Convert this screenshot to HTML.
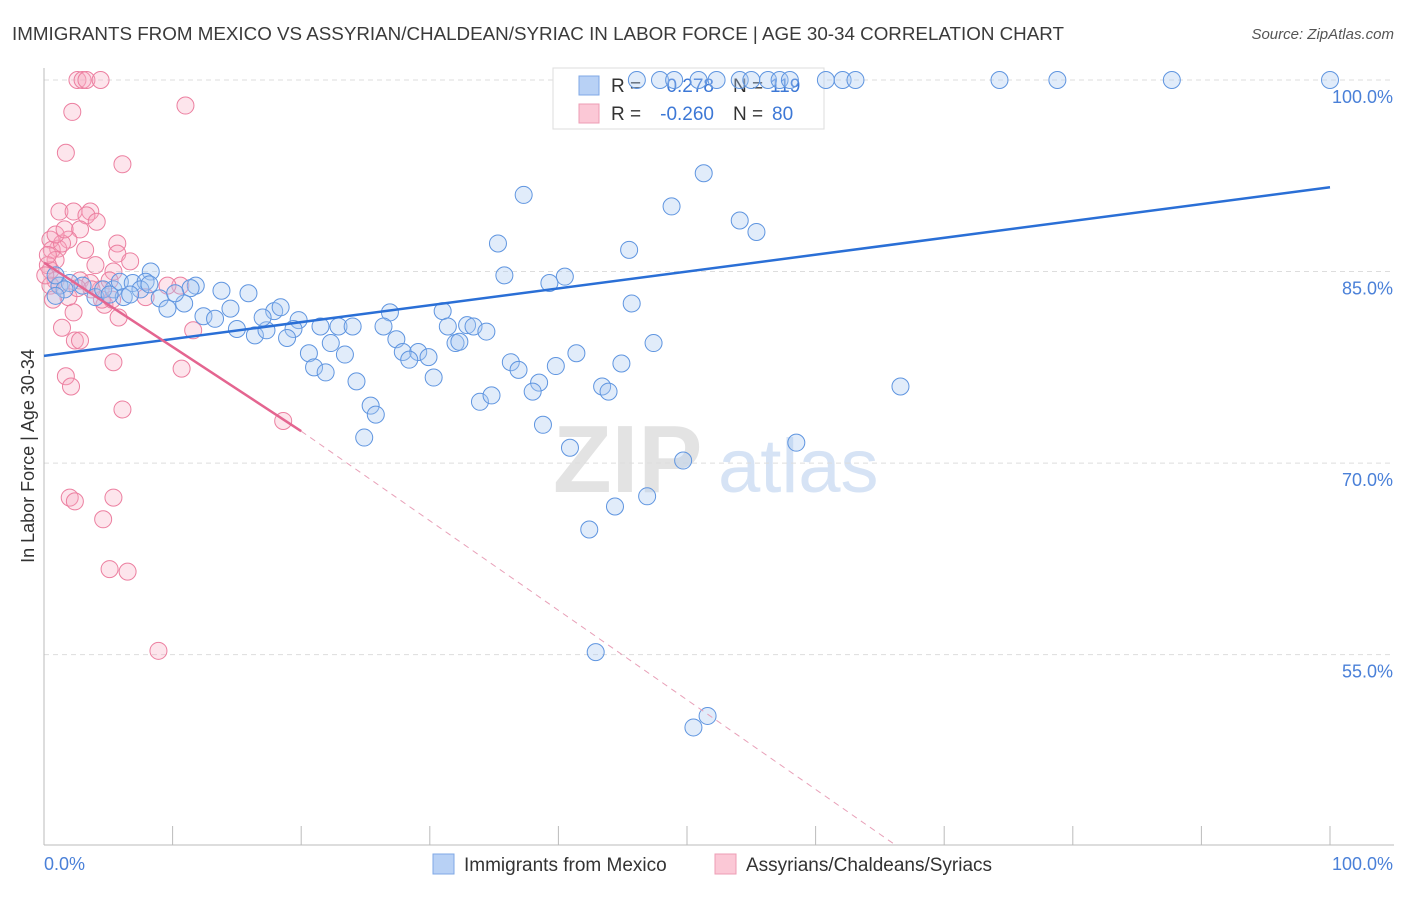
<!DOCTYPE html>
<html><head><meta charset="utf-8">
<style>
body{margin:0;background:#fff;font-family:"Liberation Sans",sans-serif;}
svg text{font-family:"Liberation Sans",sans-serif;}
</style></head>
<body>
<svg id="chart" width="1406" height="892" xmlns="http://www.w3.org/2000/svg">
<text x="12" y="40" font-size="18.8" fill="#3a3a3a">IMMIGRANTS FROM MEXICO VS ASSYRIAN/CHALDEAN/SYRIAC IN LABOR FORCE | AGE 30-34 CORRELATION CHART</text>
<text x="1394" y="39" font-size="15" fill="#555" font-style="italic" text-anchor="end">Source: ZipAtlas.com</text>
<g>
<text x="553" y="492" font-size="96" fill="#e3e3e3" font-family="Liberation Serif" font-weight="bold">ZIP</text>
<text x="718" y="492" font-size="76" fill="#d6e3f5">atlas</text>
</g>
<g id="grid"></g>
<g id="axes"></g>
<g>
<rect x="553" y="68" width="271" height="61" fill="#fff" stroke="#ddd"/>
<rect x="579" y="76" width="20" height="19" fill="#b8d1f5" stroke="#7fa8e6"/>
<rect x="579" y="104" width="20" height="19" fill="#fbc8d6" stroke="#ee9db4"/>
<text x="611" y="92" font-size="19" fill="#333">R =</text>
<text x="714" y="92" font-size="19" fill="#3d78d6" text-anchor="end">0.278</text>
<text x="733" y="92" font-size="19" fill="#333">N =</text>
<text x="770" y="92" font-size="19" fill="#3d78d6">119</text>
<text x="611" y="120" font-size="19" fill="#333">R =</text>
<text x="714" y="120" font-size="19" fill="#3d78d6" text-anchor="end">-0.260</text>
<text x="733" y="120" font-size="19" fill="#333">N =</text>
<text x="772" y="120" font-size="19" fill="#3d78d6">80</text>
</g>
<g id="pts"></g>
<g id="trends"></g>
<g>
<rect x="433" y="854" width="21" height="20" fill="#b8d1f5" stroke="#7fa8e6"/>
<text x="464" y="871" font-size="19" fill="#333">Immigrants from Mexico</text>
<rect x="715" y="854" width="21" height="20" fill="#fbc8d6" stroke="#ee9db4"/>
<text x="746" y="871" font-size="19" fill="#333">Assyrians/Chaldeans/Syriacs</text>
</g>
<text transform="translate(34,456) rotate(-90)" font-size="18" fill="#333" text-anchor="middle">In Labor Force | Age 30-34</text>
</svg>
<script>
const yTicks=[100,85,70,55];
const yTickLabels=["100.0%","85.0%","70.0%","55.0%"];
const xTickLabels=["0.0%","100.0%"];
const blueX=[46.1,47.9,49.0,50.9,52.3,54.1,55.0,56.3,57.2,58.0,60.8,62.1,63.1,74.3,78.8,87.7,100,
51.3,37.3,48.8,54.1,55.4,35.3,45.5,35.8,40.5,39.3,8.3,45.7,11.8,11.4,15.9,13.8,9.0,9.6,10.9,12.4,13.3,14.5,15.0,16.4,17.3,17.9,18.4,17.0,19.8,19.4,18.9,21.5,22.9,24.0,22.3,20.6,21.0,21.9,23.4,24.3,26.9,26.4,27.4,27.9,29.1,28.4,29.9,30.3,31.0,31.4,32.9,33.4,34.4,32.0,32.3,25.4,25.8,24.9,33.9,34.8,36.3,36.9,38.5,38.0,39.8,41.4,38.8,40.9,43.4,43.9,44.9,47.4,49.7,46.9,44.4,42.4,58.5,66.6,42.9,51.6,50.5,
5.4,5.9,6.9,7.9,4.0,4.6,3.0,1.2,2.0,0.9,1.6,7.5,6.2,6.7,0.9,5.1,8.2,10.2];
const blueY=[100,100,100,100,100,100,100,100,100,100,100,100,100,100,100,100,100,
92.7,91.0,90.1,89.0,88.1,87.2,86.7,84.7,84.6,84.1,85.0,82.5,83.9,83.7,83.3,83.5,82.9,82.1,82.5,81.5,81.3,82.1,80.5,80.0,80.4,81.9,82.2,81.4,81.2,80.5,79.8,80.7,80.7,80.7,79.4,78.6,77.5,77.1,78.5,76.4,81.8,80.7,79.7,78.7,78.7,78.1,78.3,76.7,81.9,80.7,80.8,80.7,80.3,79.4,79.5,74.5,73.8,72.0,74.8,75.3,77.9,77.3,76.3,75.6,77.6,78.6,73.0,71.2,76.0,75.6,77.8,79.4,70.2,67.4,66.6,64.8,71.6,76.0,55.2,50.2,49.3,
83.6,84.2,84.1,84.2,83.0,83.6,83.9,83.9,84.1,84.7,83.6,83.6,83.0,83.2,83.1,83.2,84.0,83.3];
const pinkX=[2.6,3.0,3.3,4.4,2.2,11.0,1.7,6.1,1.2,2.3,3.6,3.3,4.1,2.8,1.9,1.1,0.5,0.6,0.9,1.4,5.7,5.7,6.7,4.0,5.4,4.4,0.9,1.2,1.9,2.8,3.6,4.7,5.8,5.3,2.3,1.4,2.4,2.8,5.4,10.6,9.6,11.6,10.7,1.7,2.1,6.1,18.6,2.0,2.4,5.4,4.6,5.1,6.5,8.9,0.5,0.3,0.5,0.1,0.9,0.7,0.3,3.2,1.6,4.5,2.6,3.7,5.1,7.9];
const pinkY=[100,100,100,100,97.5,98.0,94.3,93.4,89.7,89.7,89.7,89.4,88.9,88.3,87.5,86.8,87.5,86.7,85.9,87.2,87.2,86.4,85.8,85.5,85.0,83.6,84.3,83.9,83.0,84.3,84.1,82.4,81.4,82.8,81.8,80.6,79.6,79.6,77.9,83.9,83.9,80.4,77.4,76.8,76.0,74.2,73.3,67.3,67.0,67.3,65.6,61.7,61.5,55.3,85.1,85.5,83.9,84.7,87.9,82.8,86.3,86.7,88.3,82.8,83.7,83.6,84.3,83.0];
const blueTrend=[[0,78.4],[100,91.6]];
const pinkTrend=[[0,85.7],[20,72.5],[66.2,40.1]];

const NS="http://www.w3.org/2000/svg";
const X0=44,X1=1330,Y100=80,PX_PER=12.77;
function xs(v){return X0+(X1-X0)*v/100;}
function ys(v){return Y100+(100-v)*PX_PER;}
function mk(tag,attrs,parent){const e=document.createElementNS(NS,tag);for(const k in attrs)e.setAttribute(k,attrs[k]);parent.appendChild(e);return e;}
const grid=document.getElementById('grid'),axes=document.getElementById('axes');
yTicks.forEach((t,i)=>{
  const l=mk('line',{x1:X0,x2:1394,y1:ys(t),y2:ys(t),stroke:'#ddd','stroke-dasharray':'5,4'},grid);
  
  
  const tx=mk('text',{x:1393,y:ys(t)+23,'font-size':18,fill:'#4a80d8','text-anchor':'end'},axes);
  tx.textContent=yTickLabels[i];
  
  
});
const ya=mk('line',{x1:X0,x2:X0,y1:68,y2:845,stroke:'#bbb'},axes);


const xa=mk('line',{x1:X0,x2:1394,y1:845,y2:845,stroke:'#bbb'},axes);


for(let i=0;i<=10;i++){
  const tk=mk('line',{x1:xs(i*10),x2:xs(i*10),y1:826,y2:845,stroke:'#bbb'},axes);
  
  
}
const xl0=mk('text',{x:44,y:870,'font-size':18,fill:'#4a80d8'},axes);xl0.textContent=xTickLabels[0];


const xl1=mk('text',{x:1393,y:870,'font-size':18,fill:'#4a80d8','text-anchor':'end'},axes);xl1.textContent=xTickLabels[1];


const pts=document.getElementById('pts');
pinkX.forEach((x,i)=>{
  const c=mk('circle',{cx:xs(x),cy:ys(pinkY[i]),r:8.5,fill:'#f7a8c0','fill-opacity':0.3,stroke:'#ec7fa0','stroke-width':1},pts);
  
  
});
blueX.forEach((x,i)=>{
  const c=mk('circle',{cx:xs(x),cy:ys(blueY[i]),r:8.5,fill:'#a8c8f2','fill-opacity':0.35,stroke:'#5f95e0','stroke-width':1},pts);
  
  
});
const tr=document.getElementById('trends');
const bl=mk('line',{x1:xs(blueTrend[0][0]),y1:ys(blueTrend[0][1]),x2:xs(blueTrend[1][0]),y2:ys(blueTrend[1][1]),stroke:'#2a6fd6','stroke-width':2.5},tr);


const pl=mk('line',{x1:xs(pinkTrend[0][0]),y1:ys(pinkTrend[0][1]),x2:xs(pinkTrend[1][0]),y2:ys(pinkTrend[1][1]),stroke:'#e46590','stroke-width':2.5},tr);


const pd=mk('line',{x1:xs(pinkTrend[1][0]),y1:ys(pinkTrend[1][1]),x2:xs(pinkTrend[2][0]),y2:ys(pinkTrend[2][1]),stroke:'#e8a0b8','stroke-width':1,'stroke-dasharray':'6,5'},tr);


</script>
</body></html>
